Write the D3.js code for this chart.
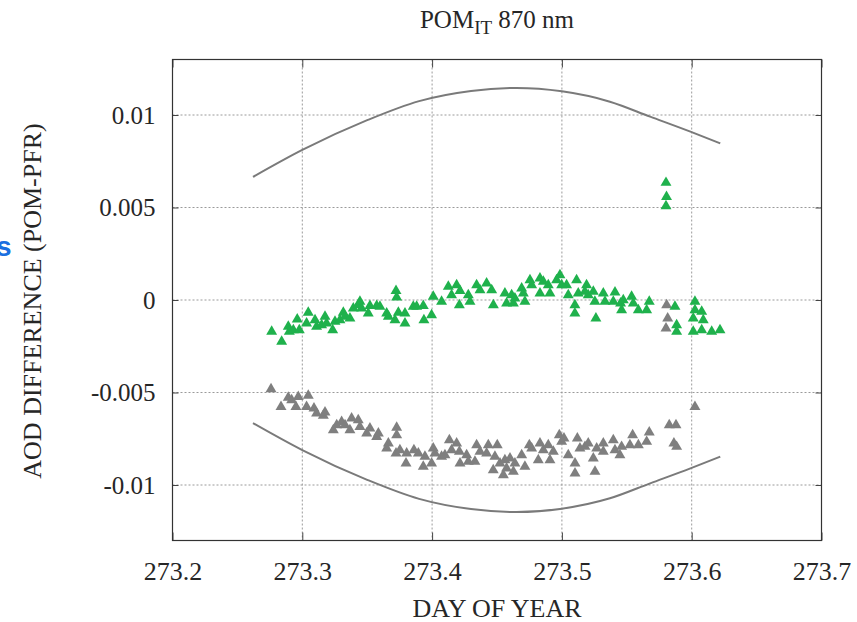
<!DOCTYPE html>
<html>
<head>
<meta charset="utf-8">
<script src="https://cdn.jsdelivr.net/npm/d3@7"></script>
<style>
  body { margin: 0; background: #fff; }
  svg { display: block; }
</style>
</head>
<body>
<div id="chart"></div>
<script>
// x tick values and labels
const xTicks = [273.2, 273.3, 273.4, 273.5, 273.6, 273.7];
const yTicks = [0.01, 0.005, 0, -0.005, -0.01];
const yTickLabels = ["0.01", "0.005", "0", "-0.005", "-0.01"];

// envelope curves
const envDay = [273.262, 273.30, 273.35, 273.39, 273.43, 273.465, 273.50, 273.537, 273.568, 273.599, 273.622];
const envUpper = [0.00665, 0.00811, 0.00972, 0.01075, 0.01130, 0.01146, 0.01128, 0.01072, 0.00991, 0.00910, 0.00847];
const envLower = [-0.00665, -0.00811, -0.00972, -0.01075, -0.01130, -0.01146, -0.01128, -0.01072, -0.00991, -0.00910, -0.00847];

// green series: day, difference
const greenDay = [
  273.2764, 273.2841, 273.2892, 273.2900, 273.2931, 273.2961, 273.2977, 273.3033, 273.3046, 273.3098,
  273.3110, 273.3149, 273.3175, 273.3187, 273.3234, 273.3252, 273.3290, 273.3316, 273.3329, 273.3367,
  273.3393, 273.3431, 273.3444, 273.3457, 273.3508, 273.3521, 273.3573, 273.3598, 273.3650, 273.3663,
  273.3714, 273.3722, 273.3727, 273.3740, 273.3791, 273.3791, 273.3855, 273.3881, 273.3932, 273.3937,
  273.3996, 273.4009, 273.4073, 273.4125, 273.4150, 273.4189, 273.4215, 273.4210, 273.4279, 273.4292,
  273.4343, 273.4369, 273.4420, 273.4459, 273.4472,
  273.4561, 273.4574, 273.4613, 273.4626, 273.4638, 273.4690, 273.4703, 273.4715, 273.4754, 273.4767,
  273.4831, 273.4831, 273.4857, 273.4895, 273.4908, 273.4959, 273.4985, 273.4998, 273.5036, 273.5049,
  273.5100, 273.5100, 273.5113, 273.5126, 273.5177, 273.5190, 273.5203, 273.5242, 273.5254, 273.5262,
  273.5319, 273.5332, 273.5396, 273.5409, 273.5452, 273.5460, 273.5473, 273.5537, 273.5550, 273.5589,
  273.5653, 273.5673, 273.5871, 273.5884, 273.5884, 273.6025, 273.6025, 273.6012, 273.6077, 273.6089,
  273.6012, 273.6077, 273.6154, 273.6218,
  273.5802, 273.5806, 273.5802
];
const greenDiff = [
  -0.00171, -0.00225, -0.00144, -0.00171, -0.00162, -0.00105, -0.00162, -0.00126, -0.00068, -0.00108,
  -0.00144, -0.00135, -0.00090, -0.00126, -0.00162, -0.00117, -0.00108, -0.00068, -0.00090, -0.00099,
  -0.00045, -0.00027, -0.00009, -0.00045, -0.00072, -0.00032, -0.00032, -0.00036, -0.00072, -0.00090,
  -0.00108, 0.00050, 0.00014, -0.00068, -0.00072, -0.00126, -0.00036, -0.00036, -0.00032, -0.00108,
  -0.00081, 0.00018, -0.00009, 0.00072, 0.00027, 0.00081, 0.00050, -0.00027, 0.00027, -0.00009,
  0.00081, 0.00054, 0.00090, 0.00054, -0.00027,
  0.00036, -0.00018, 0.00027, -0.00018, 0.00009, 0.00063, 0.00036, -0.00009, 0.00108, 0.00081,
  0.00117, 0.00036, 0.00099, 0.00081, 0.00036, 0.00108, 0.00135, 0.00081, 0.00081, 0.00027,
  -0.00027, -0.00072, 0.00108, 0.00036, 0.00045, 0.00081, 0.00027, 0.00045, -0.00009, -0.00099,
  0.00036, -0.00009, -0.00009, 0.00041, -0.00018, -0.00054, 0.00000, 0.00018, -0.00018, -0.00054,
  -0.00054, -0.00009, -0.00036, -0.00135, -0.00171, -0.00009, -0.00054, -0.00099, -0.00063, -0.00108,
  -0.00171, -0.00162, -0.00171, -0.00162,
  0.00634, 0.00558, 0.00508
];

// gray series: day, difference
const grayDay = [
  273.2759, 273.2836, 273.2892, 273.2918, 273.2951, 273.2969, 273.3033, 273.3046, 273.3090, 273.3110,
  273.3162, 273.3175, 273.3239, 273.3265, 273.3303, 273.3329, 273.3367, 273.3380, 273.3431, 273.3444,
  273.3496, 273.3521, 273.3573, 273.3586, 273.3663, 273.3650, 273.3727, 273.3727, 273.3722, 273.3752,
  273.3799, 273.3804, 273.3860, 273.3894, 273.3932, 273.3945, 273.3996, 273.4009, 273.4022, 273.4073,
  273.4099, 273.4133, 273.4150, 273.4189, 273.4210, 273.4215, 273.4266, 273.4279, 273.4330, 273.4343,
  273.4369, 273.4420, 273.4433, 273.4471, 273.4484, 273.4502, 273.4523, 273.4549, 273.4561, 273.4574,
  273.4600, 273.4626, 273.4638, 273.4690, 273.4715, 273.4749, 273.4767, 273.4818, 273.4831, 273.4857,
  273.4895, 273.4908, 273.4934, 273.4980, 273.4998, 273.5016, 273.5049, 273.5101, 273.5101, 273.5119,
  273.5139, 273.5178, 273.5203, 273.5242, 273.5255, 273.5268, 273.5319, 273.5319, 273.5396, 273.5409,
  273.5447, 273.5460, 273.5524, 273.5545, 273.5589, 273.5653, 273.5673, 273.5827, 273.5879, 273.5863,
  273.5884, 273.6025,
  273.5807, 273.5815, 273.5802
];
const grayDiff = [
  -0.00481, -0.00577, -0.00528, -0.00541, -0.00577, -0.00523, -0.00577, -0.00517, -0.00586, -0.00613,
  -0.00625, -0.00607, -0.00703, -0.00676, -0.00658, -0.00676, -0.00703, -0.00640, -0.00649, -0.00685,
  -0.00721, -0.00694, -0.00739, -0.00721, -0.00775, -0.00802, -0.00690, -0.00730, -0.00829, -0.00811,
  -0.00883, -0.00829, -0.00811, -0.00829, -0.00901, -0.00847, -0.00883, -0.00802, -0.00829, -0.00847,
  -0.00838, -0.00757, -0.00811, -0.00775, -0.00820, -0.00883, -0.00838, -0.00874, -0.00874, -0.00784,
  -0.00820, -0.00829, -0.00784, -0.00919, -0.00847, -0.00784, -0.00883, -0.00946, -0.00865, -0.00910,
  -0.00856, -0.00928, -0.00883, -0.00838, -0.00901, -0.00784, -0.00802, -0.00865, -0.00775, -0.00811,
  -0.00784, -0.00865, -0.00820, -0.00730, -0.00766, -0.00748, -0.00838, -0.00883, -0.00937, -0.00748,
  -0.00802, -0.00793, -0.00775, -0.00856, -0.00928, -0.00802, -0.00775, -0.00820, -0.00757, -0.00811,
  -0.00838, -0.00793, -0.00784, -0.00730, -0.00784, -0.00766, -0.00715, -0.00676, -0.00676, -0.00775,
  -0.00793, -0.00577,
  -0.00027, -0.00099, -0.00153
];

const width = 857, height = 622;
const margin = { top: 59.5, right: 35.5, bottom: 81.5, left: 172.5 };
const plotW = width - margin.left - margin.right;
const plotH = height - margin.top - margin.bottom;

const svg = d3.select('#chart')
  .append('svg')
  .attr('width', width)
  .attr('height', height);

const g = svg.append('g')
  .attr('transform', `translate(${margin.left},${margin.top})`);

const xScale = d3.scaleLinear().domain([273.2, 273.7]).range([0, plotW]);
const yScale = d3.scaleLinear().domain([-0.013, 0.013]).range([plotH, 0]);

const serif = '"Liberation Serif", "Times New Roman", serif';
const textColour = '#262626';

// dotted grid
g.selectAll('.xgrid')
  .data(xTicks.slice(1, -1))
  .enter()
  .append('line')
  .attr('class', 'xgrid')
  .attr('x1', d => xScale(d)).attr('x2', d => xScale(d))
  .attr('y1', 0).attr('y2', plotH)
  .attr('stroke', '#9a9a9a')
  .attr('stroke-width', 1)
  .attr('stroke-dasharray', '2,2');

g.selectAll('.ygrid')
  .data(yTicks)
  .enter()
  .append('line')
  .attr('class', 'ygrid')
  .attr('x1', 0).attr('x2', plotW)
  .attr('y1', d => yScale(d)).attr('y2', d => yScale(d))
  .attr('stroke', '#9a9a9a')
  .attr('stroke-width', 1)
  .attr('stroke-dasharray', '2,2');

// axes with inward ticks
const xAxis = g.append('g')
  .attr('transform', `translate(0,${plotH})`)
  .call(d3.axisBottom(xScale).tickValues(xTicks).tickSize(-8).tickPadding(21).tickFormat(d3.format('.1f')));
xAxis.select('.domain').remove();
xAxis.selectAll('text')
  .style('font-family', serif)
  .style('font-size', '26px')
  .attr('fill', textColour);
xAxis.selectAll('line').attr('stroke', '#444');

const yAxis = g.append('g')
  .call(d3.axisLeft(yScale).tickValues(yTicks).tickSize(-6).tickPadding(17)
    .tickFormat((d, i) => yTickLabels[i]));
yAxis.select('.domain').remove();
yAxis.selectAll('text')
  .style('font-family', serif)
  .style('font-size', '25px')
  .attr('fill', textColour);
yAxis.selectAll('line').attr('stroke', '#444');

// mirrored ticks on right and top
g.append('g')
  .attr('transform', `translate(${plotW},0)`)
  .call(d3.axisRight(yScale).tickValues(yTicks).tickSize(-6).tickFormat(''))
  .call(s => s.select('.domain').remove())
  .selectAll('line').attr('stroke', '#444');
g.append('g')
  .call(d3.axisTop(xScale).tickValues(xTicks).tickSize(-8).tickFormat(''))
  .call(s => s.select('.domain').remove())
  .selectAll('line').attr('stroke', '#444');

// frame
g.append('rect')
  .attr('x', 0).attr('y', 0)
  .attr('width', plotW).attr('height', plotH)
  .attr('fill', 'none')
  .attr('stroke', '#333')
  .attr('stroke-width', 1.2);

// envelope curves
const envLine = d3.line()
  .x(d => xScale(d[0]))
  .y(d => yScale(d[1]))
  .curve(d3.curveMonotoneX);

[envUpper, envLower].forEach(vals => {
  g.append('path')
    .datum(envDay.map((d, i) => [d, vals[i]]))
    .attr('d', envLine)
    .attr('fill', 'none')
    .attr('stroke', '#7a7a7a')
    .attr('stroke-width', 2);
});

// triangles
const tri = d3.symbol().type(d3.symbolTriangle).size(52);

function drawSeries(days, diffs, colour, cls) {
  g.selectAll('.' + cls)
    .data(days.map((d, i) => ({ day: d, diff: diffs[i] })))
    .enter()
    .append('path')
    .attr('class', cls)
    .attr('d', tri)
    .attr('transform', d => `translate(${xScale(d.day)},${yScale(d.diff)})`)
    .attr('fill', colour);
}

drawSeries(grayDay, grayDiff, '#7f7f7f', 'graytri');
drawSeries(greenDay, greenDiff, '#1fb14c', 'greentri');

// title
const title = svg.append('text')
  .attr('x', margin.left + plotW / 2)
  .attr('y', 28)
  .attr('text-anchor', 'middle')
  .style('font-family', serif)
  .style('font-size', '25px')
  .attr('fill', textColour);
title.append('tspan').text('POM');
title.append('tspan').attr('dy', 6).style('font-size', '19px').text('IT');
title.append('tspan').attr('dy', -6).text(' 870 nm');

// axis labels
svg.append('text')
  .attr('x', margin.left + plotW / 2)
  .attr('y', 617)
  .attr('text-anchor', 'middle')
  .style('font-family', serif)
  .style('font-size', '26px')
  .attr('fill', textColour)
  .text('DAY OF YEAR');

svg.append('text')
  .attr('transform', `translate(41,${margin.top + plotH / 2 + 1}) rotate(-90)`)
  .attr('text-anchor', 'middle')
  .style('font-family', serif)
  .style('font-size', '26px')
  .attr('fill', textColour)
  .text('AOD DIFFERENCE (POM-PFR)');

// clipped blue letter at the left edge
svg.append('text')
  .attr('x', -4)
  .attr('y', 256)
  .style('font-family', '"Liberation Sans", Arial, sans-serif')
  .style('font-weight', 'bold')
  .style('font-size', '28px')
  .attr('fill', '#1a6fe0')
  .text('s');
</script>
</body>
</html>
